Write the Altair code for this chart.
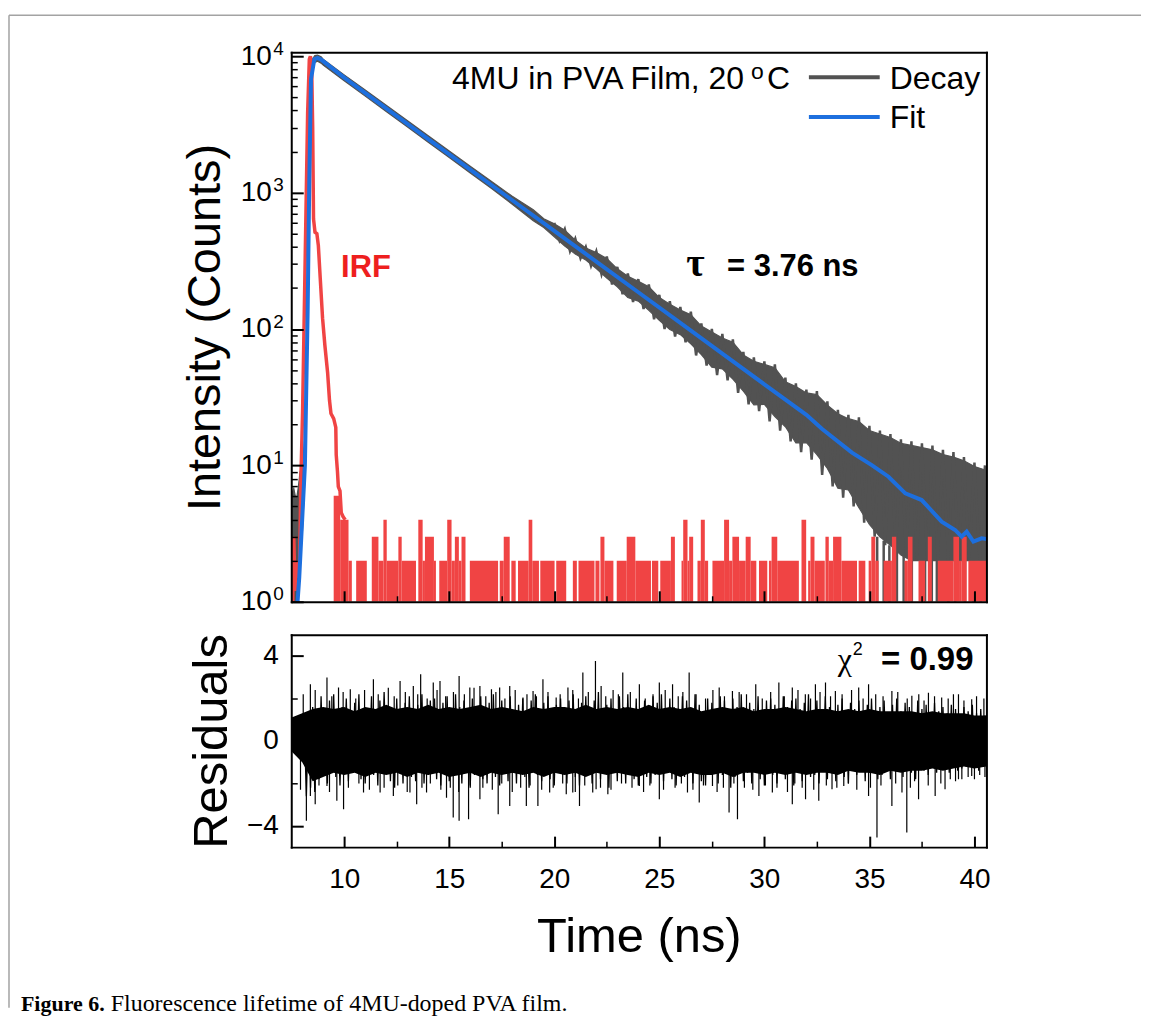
import altair as alt
import pandas as pd

SANS = "Liberation Sans"
SERIF = "Liberation Serif"
GRAY = "#525252"
BLUE = "#1d6fde"
RED = "#f04444"
RED_TXT = "#ee1f1f"

X_DOMAIN = [7.48, 40.57]
Y_DOMAIN = [1, 10700]
R_DOMAIN = [-5, 5]

# ---------------- Decay (gray) : time (ns), upper / lower envelope (counts)
decay_t = [7.48, 7.60, 7.72, 7.82, 7.90, 8.00, 8.13, 8.26, 8.34, 8.42,
           8.50, 8.60, 8.73, 8.90, 9.00, 10, 11, 12, 13, 14,
           15, 16, 17, 18, 19, 19.5, 20, 20.5, 21, 21.5,
           22, 22.5, 23, 23.5, 24, 24.5, 25, 25.5, 26, 26.5,
           27, 27.5, 28, 28.5, 29, 29.5, 30, 30.5, 31, 31.5,
           32, 32.5, 33, 33.5, 34, 34.5, 35, 35.5, 36, 36.5,
           37, 37.5, 38, 38.5, 39, 39.5, 40, 40.57]
decay_hi = [6.0, 6.8, 5.5, 7.0, 9.0, 10, 16, 190, 1600, 8000,
            9600, 10100, 10200, 9900, 9500, 7300, 5650, 4370, 3380, 2610,
            2020, 1560, 1210, 940, 750, 644, 590, 529, 448, 392,
            363, 329, 276, 244, 224, 204, 170, 152, 138, 127,
            105, 95, 86, 80, 64.5, 58, 55, 52, 41, 37.8,
            34, 33, 27.6, 23.9, 22, 21, 18, 17, 16, 14.5,
            14, 13.5, 13, 12, 11.5, 10.8, 9.8, 9.2]
decay_lo = [1.0, 1.0, 1.0, 1.3, 2.0, 3.0, 8, 100, 950, 5600,
            8200, 9000, 9200, 8900, 8600, 6600, 5100, 3940, 3040, 2340,
            1810, 1390, 1075, 822, 623, 554, 474, 405, 354, 320,
            277, 236, 204, 170, 160, 137, 116, 99, 91, 78,
            65, 52.5, 51, 43, 35, 27.8, 28, 22.8, 19.2, 14.6,
            14.7, 12, 9.5, 6.8, 6.6, 4.9, 3.7, 3.0, 2.6, 2.2,
            2.0, 2.0, 2.0, 2.0, 2.0, 2.0, 2.0, 2.0]
# noisy decay channels (spiky trace) in the later part
decay_zz_t = [20.00, 20.25, 20.50, 20.75, 21.00, 21.25, 21.50, 21.75, 22.00, 22.25,
              22.50, 22.75, 23.00, 23.25, 23.50, 23.75, 24.00, 24.25, 24.50, 24.75,
              25.00, 25.25, 25.50, 25.75, 26.00, 26.25, 26.50, 26.75, 27.00, 27.25,
              27.50, 27.75, 28.00, 28.25, 28.50, 28.75, 29.00, 29.25, 29.50, 29.75,
              30.00, 30.25, 30.50, 30.75, 31.00, 31.25, 31.50, 31.75, 32.00, 32.25,
              32.50, 32.75, 33.00, 33.25, 33.50, 33.75, 34.00, 34.25, 34.50, 34.75,
              35.00, 35.25, 35.50, 35.75, 36.00, 36.25, 36.50, 36.75, 37.00, 37.25,
              37.50, 37.75, 38.00, 38.25, 38.50, 38.75, 39.00, 39.25, 39.50, 39.75,
              40.00, 40.25, 40.50]
decay_zz_v = [600, 445, 540, 372, 460, 330, 400, 290, 372, 252,
              340, 212, 285, 180, 255, 158, 232, 140, 212, 118,
              178, 100, 160, 88, 145, 80, 134, 64, 110, 54,
              100, 46, 92, 42, 84, 34, 68, 28, 62, 25,
              58, 21, 55, 18, 44, 15, 40, 12.5, 36, 11,
              35, 8.5, 29.5, 7.0, 25.5, 5.8, 23.5, 5.0, 22.5, 3.8,
              19.5, 3.0, 18, 2.6, 17, 2.3, 15.5, 2.1, 15, 2.0,
              14.5, 2.0, 14, 2.0, 13, 2.0, 12.5, 2.0, 11.5, 2.0,
              10.5, 2.0, 10]
# gray decay channels dropping to the floor in the tail
decay_drop_t = [35.37, 35.68, 35.95, 36.31, 36.63, 37.02, 37.65, 37.97,
                38.21, 38.76, 39.08, 39.55, 39.95, 40.30]
decay_drop_v = [3.0, 2.8, 2.6, 2.4, 2.2, 2.1, 2.0, 2.0,
                2.0, 2.0, 2.0, 2.0, 2.0, 2.0]

# ---------------- Fit (blue)
fit_t = [7.78, 7.86, 8.13, 8.26, 8.34, 8.42, 8.58, 8.73, 8.90, 10,
         12, 14, 16, 18, 20, 22, 24, 26, 28, 30,
         32, 32.75, 34.17, 35.13, 35.91, 36.71, 37.49, 38.44, 39.08, 39.39,
         39.63, 39.95, 40.34, 40.57]
fit_v = [1.0, 1.5, 10, 133, 1260, 6800, 9500, 9700, 9450, 6960,
         4150, 2470, 1473, 879, 524, 312, 186, 111, 66, 39.3,
         23.5, 18.5, 12.4, 10.0, 8.26, 6.24, 5.57, 3.87, 3.36, 3.0,
         3.27, 2.76, 2.92, 2.89]

# ---------------- IRF (red) main pulse
irf_t = [7.49, 7.55, 7.60, 7.66, 7.72, 7.80, 7.88, 7.94, 8.02, 8.10,
         8.18, 8.26, 8.34, 8.39, 8.45, 8.50, 8.54, 8.61, 8.70, 8.77,
         8.86, 8.97, 9.08, 9.21, 9.30, 9.37, 9.50, 9.60, 9.62, 9.68,
         9.72, 9.80, 9.86, 9.95, 10.05]
irf_v = [2, 1, 3, 1.2, 2, 1.5, 2, 8, 25, 133,
         716, 3860, 9500, 10000, 8480, 3000, 641, 512, 500, 409,
         235, 120, 76, 48, 30, 24, 22, 19, 12, 9,
         7, 6.5, 4.5, 4.2, 4]

# ---------------- IRF background counts (blocks: start, end, counts)
irf_bg_start = [9.50, 9.81, 10.206, 10.570, 11.313, 11.630, 11.867, 12.025, 12.579, 12.737,
                13.528, 13.734, 13.844, 14.271, 14.525, 14.904, 15.110, 15.268, 15.458, 15.584,
                15.980, 17.404, 17.594, 17.957, 18.274, 18.780, 18.954, 19.334, 20.093, 20.884,
                21.153, 21.960, 22.197, 22.387, 22.973, 23.447, 23.858, 24.650, 25.045, 25.551,
                26.057, 26.137, 26.342, 26.421, 26.817, 26.975, 27.165, 27.529, 28.083, 28.320,
                28.478, 28.795, 29.111, 29.348, 29.744, 30.218, 30.345, 30.614, 31.768, 32.085,
                32.196, 32.385, 32.907, 33.066, 33.271, 33.667, 34.489, 34.964, 35.091, 35.280,
                35.676, 36.071, 36.673, 36.831, 37.337, 37.780, 38.255, 38.998, 39.267, 39.394,
                39.710]
irf_bg_end = [9.81, 10.206, 10.364, 11.076, 11.630, 11.867, 12.025, 12.579, 12.737, 13.417,
              13.734, 13.844, 14.271, 14.366, 14.904, 15.110, 15.268, 15.458, 15.584, 15.774,
              17.325, 17.594, 17.878, 18.163, 18.780, 18.954, 19.270, 20.014, 20.568, 21.074,
              21.913, 22.150, 22.387, 22.814, 23.447, 23.858, 24.602, 24.950, 25.551, 25.741,
              26.137, 26.342, 26.421, 26.611, 26.975, 27.165, 27.323, 28.083, 28.320, 28.478,
              28.795, 29.111, 29.348, 29.617, 30.139, 30.345, 30.614, 31.642, 31.990, 32.196,
              32.385, 32.876, 33.066, 33.271, 33.667, 34.410, 34.806, 35.091, 35.280, 35.439,
              36.071, 36.277, 36.831, 37.052, 37.653, 37.970, 38.998, 39.267, 39.394, 39.631,
              40.580]
irf_bg_val = [6, 4, 2, 2, 3, 2, 4, 2, 3, 2,
              4, 2, 3, 2, 2, 4, 2, 3, 2, 3,
              2, 2, 3, 2, 2, 4, 2, 2, 2, 2,
              2, 2, 3, 2, 2, 3, 2, 2, 2, 3,
              2, 4, 2, 3, 2, 4, 2, 2, 4, 2,
              3, 2, 3, 2, 2, 2, 3, 2, 4, 2,
              3, 2, 3, 2, 3, 2, 2, 2, 3, 2,
              2, 3, 2, 3, 2, 3, 2, 3, 2, 3,
              2]

# ---------------- Residuals: dense core envelope
res_t = [7.5, 8.0, 8.5, 9.0, 9.5, 10.0, 10.5, 11.0, 11.5, 12.0,
         12.5, 13.0, 13.5, 14.0, 14.5, 15.0, 15.5, 16.0, 16.5, 17.0,
         17.5, 18.0, 18.5, 19.0, 19.5, 20.0, 20.5, 21.0, 21.5, 22.0,
         22.5, 23.0, 23.5, 24.0, 24.5, 25.0, 25.5, 26.0, 26.5, 27.0,
         27.5, 28.0, 28.5, 29.0, 29.5, 30.0, 30.5, 31.0, 31.5, 32.0,
         32.5, 33.0, 33.5, 34.0, 34.5, 35.0, 35.5, 36.0, 36.5, 37.0,
         37.5, 38.0, 38.5, 39.0, 39.5, 40.0, 40.57]
res_hi = [1.1, 1.3, 1.5, 1.6, 1.5, 1.6, 1.4, 1.6, 1.5, 1.7,
          1.5, 1.6, 1.5, 1.7, 1.5, 1.6, 1.5, 1.6, 1.7, 1.5,
          1.6, 1.5, 1.4, 1.6, 1.5, 1.6, 1.6, 1.5, 1.7, 1.5,
          1.6, 1.5, 1.6, 1.5, 1.7, 1.5, 1.6, 1.5, 1.6, 1.4,
          1.5, 1.6, 1.5, 1.6, 1.4, 1.5, 1.5, 1.6, 1.5, 1.4,
          1.5, 1.5, 1.4, 1.5, 1.4, 1.5, 1.4, 1.4, 1.4, 1.4,
          1.3, 1.4, 1.3, 1.3, 1.3, 1.2, 1.2]
res_lo = [-0.5, -1.0, -1.9, -1.7, -1.5, -1.6, -1.5, -1.7, -1.5, -1.6,
          -1.5, -1.7, -1.5, -1.6, -1.5, -1.7, -1.6, -1.5, -1.7, -1.5,
          -1.6, -1.5, -1.6, -1.5, -1.7, -1.5, -1.6, -1.5, -1.7, -1.5,
          -1.6, -1.5, -1.6, -1.7, -1.5, -1.6, -1.5, -1.7, -1.5, -1.6,
          -1.6, -1.5, -1.7, -1.5, -1.5, -1.6, -1.5, -1.6, -1.5, -1.6,
          -1.5, -1.5, -1.6, -1.4, -1.5, -1.5, -1.6, -1.4, -1.5, -1.4,
          -1.4, -1.3, -1.4, -1.3, -1.2, -1.3, -1.2]

# residual trace (every 0.1 ns)
zz_t = [7.5, 7.6, 7.7, 7.8, 7.9, 8.0, 8.1, 8.2, 8.3, 8.4,
        8.5, 8.6, 8.7, 8.8, 8.9, 9.0, 9.1, 9.2, 9.3, 9.4,
        9.5, 9.6, 9.7, 9.8, 9.9, 10.0, 10.1, 10.2, 10.3, 10.4,
        10.5, 10.6, 10.7, 10.8, 10.9, 11.0, 11.1, 11.2, 11.3, 11.4,
        11.5, 11.6, 11.7, 11.8, 11.9, 12.0, 12.1, 12.2, 12.3, 12.4,
        12.5, 12.6, 12.7, 12.8, 12.9, 13.0, 13.1, 13.2, 13.3, 13.4,
        13.5, 13.6, 13.7, 13.8, 13.9, 14.0, 14.1, 14.2, 14.3, 14.4,
        14.5, 14.6, 14.7, 14.8, 14.9, 15.0, 15.1, 15.2, 15.3, 15.4,
        15.5, 15.6, 15.7, 15.8, 15.9, 16.0, 16.1, 16.2, 16.3, 16.4,
        16.5, 16.6, 16.7, 16.8, 16.9, 17.0, 17.1, 17.2, 17.3, 17.4,
        17.5, 17.6, 17.7, 17.8, 17.9, 18.0, 18.1, 18.2, 18.3, 18.4,
        18.5, 18.6, 18.7, 18.8, 18.9, 19.0, 19.1, 19.2, 19.3, 19.4,
        19.5, 19.6, 19.7, 19.8, 19.9, 20.0, 20.1, 20.2, 20.3, 20.4,
        20.5, 20.6, 20.7, 20.8, 20.9, 21.0, 21.1, 21.2, 21.3, 21.4,
        21.5, 21.6, 21.7, 21.8, 21.9, 22.0, 22.1, 22.2, 22.3, 22.4,
        22.5, 22.6, 22.7, 22.8, 22.9, 23.0, 23.1, 23.2, 23.3, 23.4,
        23.5, 23.6, 23.7, 23.8, 23.9, 24.0, 24.1, 24.2, 24.3, 24.4,
        24.5, 24.6, 24.7, 24.8, 24.9, 25.0, 25.1, 25.2, 25.3, 25.4,
        25.5, 25.6, 25.7, 25.8, 25.9, 26.0, 26.1, 26.2, 26.3, 26.4,
        26.5, 26.6, 26.7, 26.8, 26.9, 27.0, 27.1, 27.2, 27.3, 27.4,
        27.5, 27.6, 27.7, 27.8, 27.9, 28.0, 28.1, 28.2, 28.3, 28.4,
        28.5, 28.6, 28.7, 28.8, 28.9, 29.0, 29.1, 29.2, 29.3, 29.4,
        29.5, 29.6, 29.7, 29.8, 29.9, 30.0, 30.1, 30.2, 30.3, 30.4,
        30.5, 30.6, 30.7, 30.8, 30.9, 31.0, 31.1, 31.2, 31.3, 31.4,
        31.5, 31.6, 31.7, 31.8, 31.9, 32.0, 32.1, 32.2, 32.3, 32.4,
        32.5, 32.6, 32.7, 32.8, 32.9, 33.0, 33.1, 33.2, 33.3, 33.4,
        33.5, 33.6, 33.7, 33.8, 33.9, 34.0, 34.1, 34.2, 34.3, 34.4,
        34.5, 34.6, 34.7, 34.8, 34.9, 35.0, 35.1, 35.2, 35.3, 35.4,
        35.5, 35.6, 35.7, 35.8, 35.9, 36.0, 36.1, 36.2, 36.3, 36.4,
        36.5, 36.6, 36.7, 36.8, 36.9, 37.0, 37.1, 37.2, 37.3, 37.4,
        37.5, 37.6, 37.7, 37.8, 37.9, 38.0, 38.1, 38.2, 38.3, 38.4,
        38.5, 38.6, 38.7, 38.8, 38.9, 39.0, 39.1, 39.2, 39.3, 39.4,
        39.5, 39.6, 39.7, 39.8, 39.9, 40.0, 40.1, 40.2, 40.3, 40.4,
        40.5]
zz_v = [0.6, -0.3, 0.9, -0.5, 1.1, -0.9, 0.8, -2.6, 1.2, -2.2,
        1.6, -2.4, 0.9, -1.8, 2.1, -1.5, 1.3, -2.0, 1.9, -1.2,
        2.2, -1.7, 1.0, -2.1, 1.6, -0.9, 2.0, -1.9, 1.2, -1.4,
        1.8, -1.3, 2.2, -1.8, 0.9, -2.0, 1.5, -1.1, 2.1, -1.6,
        1.3, -2.1, 1.9, -1.4, 2.3, -1.0, 1.6, -1.9, 1.1, -2.2,
        2.0, -1.5, 1.4, -2.0, 1.8, -1.2, 2.1, -1.7, 1.0, -1.9,
        1.7, -1.3, 2.2, -2.0, 1.2, -1.6, 1.9, -1.1, 2.0, -1.8,
        1.4, -2.1, 1.8, -1.4, 2.1, -1.9, 1.1, -1.5, 2.2, -1.2,
        1.6, -2.0, 1.9, -1.3, 1.3, -2.2, 2.0, -1.6, 1.5, -1.1,
        2.1, -1.8, 1.2, -2.0, 1.8, -1.4, 2.2, -1.7, 1.4, -2.1,
        1.9, -1.2, 1.5, -1.9, 2.1, -1.5, 1.0, -2.0, 1.7, -1.3,
        2.0, -1.7, 1.4, -2.2, 1.9, -1.0, 2.2, -1.6, 1.2, -1.9,
        1.8, -1.4, 2.1, -1.8, 1.3, -2.1, 1.7, -1.2, 2.0, -1.6,
        1.5, -2.0, 1.9, -1.3, 2.2, -1.7, 1.1, -2.1, 1.8, -1.4,
        2.1, -1.6, 1.4, -2.0, 1.9, -1.2, 2.3, -1.8, 1.2, -1.5,
        1.7, -2.2, 2.0, -1.4, 1.3, -1.9, 2.1, -1.1, 1.6, -2.0,
        2.2, -1.5, 1.2, -1.8, 2.0, -2.1, 1.5, -1.3, 1.9, -1.7,
        1.4, -2.0, 2.1, -1.6, 1.8, -1.2, 2.2, -1.9, 1.1, -1.5,
        2.0, -1.8, 1.6, -2.1, 1.3, -1.4, 2.1, -1.7, 1.9, -1.1,
        1.5, -2.0, 2.2, -1.3, 1.7, -1.9, 1.2, -2.1, 2.0, -1.5,
        1.8, -1.2, 1.4, -2.0, 2.1, -1.6, 1.9, -1.4, 1.3, -2.2,
        2.0, -1.7, 1.6, -1.3, 2.2, -1.9, 1.1, -1.5, 1.8, -2.0,
        1.5, -1.4, 2.1, -1.8, 1.3, -2.1, 1.9, -1.2, 2.0, -1.6,
        1.7, -2.0, 1.2, -1.5, 2.1, -1.8, 1.6, -1.1, 1.9, -2.1,
        2.0, -1.4, 1.5, -1.9, 1.8, -1.3, 2.2, -1.7, 1.2, -1.6,
        1.9, -2.0, 1.4, -1.2, 2.1, -1.8, 1.6, -1.5, 1.3, -1.9,
        1.7, -1.3, 2.0, -1.7, 1.2, -2.0, 1.8, -1.4, 1.5, -1.6,
        1.9, -1.2, 1.4, -1.9, 1.7, -1.5, 2.0, -1.3, 1.2, -1.8,
        1.6, -1.6, 1.9, -1.2, 1.3, -1.8, 1.7, -1.4, 2.0, -1.1,
        1.4, -1.7, 1.8, -1.3, 1.6, -1.5, 1.2, -1.8, 1.9, -1.2,
        1.5, -1.4, 1.7, -1.6, 1.3, -1.2, 1.8, -1.5, 1.4, -1.3,
        1.6, -1.1, 1.3, -1.5, 1.7, -1.2, 1.5, -1.4, 1.2, -1.3,
        1.6, -1.2, 1.4, -1.1, 1.7, -1.3, 1.3, -1.4, 1.5, -1.0,
        1.2]

# large residual spikes
spk_up_t = [8.39, 9.18, 9.73, 10.29, 11.39, 12.66, 13.29, 13.64, 14.24, 14.56,
            15.47, 15.98, 16.46, 17.01, 17.40, 17.88, 18.51, 18.99, 19.46, 20.09,
            20.65, 21.36, 21.96, 22.23, 23.26, 24.05, 25.00, 25.63, 26.42, 27.85,
            28.48, 29.59, 30.69, 31.33, 32.43, 32.91, 33.38, 34.49, 34.96, 36.07,
            37.02, 37.81, 38.44, 39.24, 39.87]
spk_up_v = [2.67, 2.98, 2.51, 2.43, 2.90, 2.82, 2.59, 3.14, 2.75, 2.82,
            3.06, 2.51, 2.59, 2.43, 2.51, 2.59, 2.04, 2.35, 2.90, 2.04,
            2.51, 3.22, 3.76, 2.59, 3.22, 2.67, 2.75, 2.67, 3.22, 2.51,
            2.35, 2.67, 2.75, 2.51, 2.67, 2.75, 2.35, 2.51, 2.67, 2.35,
            2.12, 2.27, 2.04, 2.20, 1.96]
spk_dn_t = [8.20, 8.39, 8.62, 9.18, 9.65, 9.97, 10.92, 11.71, 12.34, 13.13,
            13.45, 13.92, 14.87, 15.19, 15.47, 15.92, 16.46, 17.33, 17.88, 18.67,
            19.22, 19.78, 20.57, 20.88, 21.20, 21.83, 21.99, 22.55, 24.05, 25.00,
            26.34, 26.90, 27.53, 28.32, 28.72, 29.74, 30.38, 31.33, 31.96, 32.59,
            33.22, 33.78, 34.96, 35.36, 36.07, 36.55, 36.78, 37.34, 38.13, 38.60,
            39.24, 39.87]
spk_dn_v = [-3.76, -2.59, -2.98, -2.12, -2.82, -3.22, -2.43, -2.43, -2.59, -2.43,
            -2.98, -2.43, -2.67, -3.61, -3.76, -3.69, -2.75, -3.45, -3.06, -3.06,
            -3.06, -2.43, -2.51, -2.43, -3.06, -2.43, -2.27, -2.51, -2.12, -2.75,
            -2.43, -2.90, -2.12, -3.37, -3.69, -2.59, -2.43, -2.98, -2.75, -2.82,
            -2.27, -2.12, -2.59, -4.55, -3.06, -2.43, -4.31, -2.75, -2.59, -2.27,
            -1.80, -1.65]
# medium residual spikes
med_up_t = [8.05, 8.62, 9.41, 9.95, 10.55, 10.97, 11.62, 12.10, 12.38, 12.91,
            13.50, 13.95, 14.42, 14.83, 15.20, 15.72, 16.18, 16.74, 17.22, 17.65,
            18.14, 18.70, 19.15, 19.70, 20.28, 20.88, 21.15, 21.62, 22.45, 22.80,
            23.05, 23.62, 24.33, 24.70, 25.28, 25.90, 26.12, 26.75, 27.20, 27.55,
            28.10, 28.80, 29.15, 29.90, 30.30, 30.95, 31.60, 31.95, 32.20, 32.65,
            33.15, 33.70, 34.15, 34.70, 35.30, 35.65, 36.35, 36.80, 37.35, 37.60,
            38.10, 38.75, 39.00, 39.50, 40.10, 40.45]
med_up_v = [2.2, 2.4, 2.1, 2.3, 2.0, 2.4, 2.2, 2.5, 2.1, 2.3,
            2.2, 2.0, 2.4, 2.1, 2.3, 2.2, 2.5, 2.1, 2.3, 2.0,
            2.4, 2.2, 2.1, 2.3, 2.2, 2.4, 2.0, 2.3, 2.1, 2.4,
            2.2, 2.3, 2.0, 2.2, 2.4, 2.1, 2.3, 2.2, 2.0, 2.4,
            2.1, 2.3, 2.2, 2.0, 2.3, 2.1, 2.4, 2.2, 2.0, 2.3,
            2.1, 2.2, 2.4, 2.0, 2.2, 2.1, 2.3, 2.0, 2.2, 1.9,
            2.1, 2.0, 2.2, 1.9, 2.1, 2.0]
med_dn_t = [7.92, 8.80, 9.30, 10.20, 10.70, 11.20, 11.90, 12.55, 13.00, 13.70,
            14.10, 14.60, 15.05, 15.45, 16.00, 16.60, 17.05, 17.50, 18.00, 18.40,
            18.85, 19.40, 19.95, 20.40, 21.00, 21.45, 22.20, 22.70, 23.20, 23.70,
            24.25, 24.55, 25.20, 25.75, 26.05, 26.60, 27.10, 27.75, 28.05, 28.55,
            29.05, 29.45, 30.05, 30.60, 31.10, 31.45, 31.80, 32.35, 32.95, 33.45,
            34.00, 34.40, 35.05, 35.55, 36.25, 36.95, 37.15, 37.80, 38.40, 38.85,
            39.40, 39.70, 40.00, 40.25, 40.50, 39.10]
med_dn_v = [-2.3, -2.1, -2.4, -2.2, -2.0, -2.3, -2.2, -2.1, -2.4, -2.2,
            -2.0, -2.3, -2.2, -2.4, -2.1, -2.2, -2.3, -2.0, -2.4, -2.2,
            -2.1, -2.3, -2.2, -2.0, -2.4, -2.1, -2.2, -2.3, -2.0, -2.2,
            -2.4, -2.1, -2.3, -2.2, -2.0, -2.3, -2.1, -2.4, -2.2, -2.0,
            -2.2, -2.3, -2.1, -2.2, -2.4, -2.0, -2.2, -2.3, -2.1, -2.2,
            -2.0, -2.3, -2.2, -2.1, -2.0, -2.2, -1.9, -2.1, -2.0, -1.8,
            -1.8, -1.7, -1.8, -1.6, -1.7, -1.9]

# axis tick values
x_major = [10, 15, 20, 25, 30, 35, 40]
x_minor = [12.5, 17.5, 22.5, 27.5, 32.5, 37.5]
y_major = [1, 10, 100, 1000, 10000]
y_minor = [2, 3, 4, 5, 6, 7, 8, 9, 20, 30, 40, 50, 60, 70, 80, 90,
           200, 300, 400, 500, 600, 700, 800, 900,
           2000, 3000, 4000, 5000, 6000, 7000, 8000, 9000]
r_major = [-4, 0, 4]
r_minor = [-2, 2]

W = 697
H_TOP = 551
H_BOT = 213

xs = alt.Scale(domain=X_DOMAIN, nice=False, zero=False)
ys = alt.Scale(type="log", domain=Y_DOMAIN, nice=False)
rs = alt.Scale(domain=R_DOMAIN, nice=False, zero=False)

EXP = ("datum.value < 5 ? '0' : datum.value < 50 ? '1' : datum.value < 500 ? '2' "
       ": datum.value < 5000 ? '3' : '4'")


def tick_axis(orient, values, size, width=2, **kw):
    return alt.Axis(orient=orient, values=values, tickSize=size, offset=-size,
                    tickWidth=width, tickColor="black", domain=False, grid=False,
                    zindex=1, **kw)


def frame_axis(orient, **kw):
    base = dict(orient=orient, domain=True, domainWidth=2, domainColor="black",
                domainCap="square", ticks=False, grid=False, zindex=2)
    if "labels" not in kw:
        base["labels"] = False
    base.update(kw)
    return alt.Axis(**base)


one = pd.DataFrame({"k": [0]})


def txt(s, x, y, size, align="left", weight="normal", color="black", font=SANS):
    return alt.Chart(one).mark_text(
        text=s, align=align, baseline="alphabetic", fontSize=size,
        fontWeight=weight, color=color, font=font
    ).encode(x=alt.value(x), y=alt.value(y))


# ---------------- top panel
decay_df = pd.DataFrame({"t": decay_t, "hi": decay_hi, "lo": decay_lo})
zzd_df = pd.DataFrame({"t": decay_zz_t, "v": decay_zz_v})
drop_df = pd.DataFrame({"t": decay_drop_t, "v": decay_drop_v})
fit_df = pd.DataFrame({"t": fit_t, "v": fit_v})
irf_df = pd.DataFrame({"t": irf_t, "v": irf_v})
bg_df = pd.DataFrame({"s": irf_bg_start, "e": irf_bg_end, "v": irf_bg_val})

decay = alt.Chart(decay_df).mark_area(color=GRAY, stroke=GRAY, strokeWidth=1.2, clip=True).encode(
    x=alt.X("t:Q", scale=xs, axis=tick_axis("bottom", x_major, 11, labels=False), title=None),
    y=alt.Y("hi:Q", scale=ys, title="Intensity (Counts)",
            axis=tick_axis("left", y_major, 12, labelExpr="'10'", labelFontSize=28,
                           labelPadding=20, labelFlush=False, labelOverlap=False,
                           titleFontSize=47, titlePadding=11)),
    y2="lo:Q",
)
decay_zz = alt.Chart(zzd_df).mark_line(color=GRAY, strokeWidth=2.5, clip=True).encode(
    x=alt.X("t:Q", scale=xs, axis=None),
    y=alt.Y("v:Q", scale=ys, axis=None),
)
drops = alt.Chart(drop_df).mark_rule(color=GRAY, strokeWidth=2.5, clip=True).encode(
    x=alt.X("t:Q", scale=xs, axis=None),
    y=alt.Y("v:Q", scale=ys, axis=None),
    y2=alt.datum(1),
)
irf_bg = alt.Chart(bg_df).mark_rect(color=RED, clip=True).encode(
    x=alt.X("s:Q", scale=xs, axis=tick_axis("bottom", x_minor, 6, width=1.5, labels=False), title=None),
    x2="e:Q",
    y=alt.Y("v:Q", scale=ys, axis=tick_axis("left", y_minor, 6, width=1.5, labels=False), title=None),
    y2=alt.datum(1),
)
irf = alt.Chart(irf_df).mark_line(color=RED, strokeWidth=3.5, clip=True).encode(
    x=alt.X("t:Q", scale=xs, axis=frame_axis("bottom"), title=None),
    y=alt.Y("v:Q", scale=ys, title=None,
            axis=frame_axis("left", values=y_major, labels=True, labelExpr=EXP,
                            labelFontSize=19, labelPadding=8, labelOffset=-8,
                            labelFlush=False, labelOverlap=False, tickSize=0)),
)
fit = alt.Chart(fit_df).mark_line(color=BLUE, strokeWidth=4, clip=True).encode(
    x=alt.X("t:Q", scale=xs, axis=frame_axis("top"), title=None),
    y=alt.Y("v:Q", scale=ys, axis=frame_axis("right"), title=None),
)

legend_decay = alt.Chart(one).mark_rule(color=GRAY, strokeWidth=4).encode(
    x=alt.value(519), x2=alt.value(590), y=alt.value(25))
legend_fit = alt.Chart(one).mark_rule(color=BLUE, strokeWidth=4).encode(
    x=alt.value(519), x2=alt.value(590), y=alt.value(65))

border_v = alt.Chart(one).mark_rule(color="#a3a3a3", strokeWidth=1.5).encode(
    x=alt.value(-283), y=alt.value(-37), y2=alt.value(958))
border_h = alt.Chart(one).mark_rule(color="#a3a3a3", strokeWidth=1.5).encode(
    x=alt.value(-283), x2=alt.value(852), y=alt.value(-37))

top = alt.layer(
    decay, decay_zz, drops, irf_bg, irf, fit,
    legend_decay, legend_fit,
    txt("4MU in PVA Film, 20", 454, 37.3, 32, align="right"),
    txt("o", 461, 26.5, 23),
    txt("C", 477, 37.3, 32),
    txt("Decay", 600, 37.3, 32),
    txt("Fit", 600, 75.7, 32),
    txt("τ", 396, 224, 40, weight="bold", font=SERIF),
    txt("= 3.76 ns", 437, 224, 31, weight="bold"),
    txt("IRF", 50, 225.7, 31, weight="bold", color=RED_TXT),
    border_v, border_h,
).resolve_axis(x="independent", y="independent").properties(width=W, height=H_TOP)

# ---------------- bottom panel
res_df = pd.DataFrame({"t": res_t, "hi": res_hi, "lo": res_lo})
zz_df = pd.DataFrame({"t": zz_t, "v": zz_v})
up_df = pd.DataFrame({"t": spk_up_t + med_up_t, "v": spk_up_v + med_up_v})
dn_df = pd.DataFrame({"t": spk_dn_t + med_dn_t, "v": spk_dn_v + med_dn_v})

core = alt.Chart(res_df).mark_area(color="black", clip=True).encode(
    x=alt.X("t:Q", scale=xs, title="Time (ns)",
            axis=tick_axis("bottom", x_major, 11, labelFontSize=28, labelPadding=18,
                           labelFlush=False, titleFontSize=49, titlePadding=20)),
    y=alt.Y("hi:Q", scale=rs, title="Residuals",
            axis=tick_axis("left", r_major, 12, labelFontSize=28, labelPadding=13,
                           labelFlush=False, titleFontSize=49, titlePadding=10)),
    y2="lo:Q",
)
trace = alt.Chart(zz_df).mark_line(color="black", strokeWidth=1.3, clip=True).encode(
    x=alt.X("t:Q", scale=xs, axis=frame_axis("top"), title=None),
    y=alt.Y("v:Q", scale=rs, axis=frame_axis("right"), title=None),
)
ups = alt.Chart(up_df).mark_rule(color="black", strokeWidth=1.2, clip=True).encode(
    x=alt.X("t:Q", scale=xs, axis=tick_axis("bottom", x_minor, 6, width=1.5, labels=False), title=None),
    y=alt.Y("v:Q", scale=rs, axis=tick_axis("left", r_minor, 6, width=1.5, labels=False), title=None),
    y2=alt.datum(0),
)
dns = alt.Chart(dn_df).mark_rule(color="black", strokeWidth=1.2, clip=True).encode(
    x=alt.X("t:Q", scale=xs, axis=frame_axis("bottom"), title=None),
    y=alt.Y("v:Q", scale=rs, axis=frame_axis("left"), title=None),
    y2=alt.datum(0),
)

bottom = alt.layer(
    core, trace, ups, dns,
    txt("χ", 548, 35, 32, font=SERIF),
    txt("2", 563, 20, 18),
    txt("= 0.99", 684, 35, 33, align="right", weight="bold"),
    txt("Figure 6.", -271, 377, 22, weight="bold", font=SERIF),
    txt("Fluorescence lifetime of 4MU-doped PVA film.", -181, 377, 24, font=SERIF),
).resolve_axis(x="independent", y="independent").properties(width=W, height=H_BOT)

chart = alt.vconcat(top, bottom, spacing=33, bounds="flush").properties(
    padding={"left": 0, "top": 5, "right": 5, "bottom": 5}
).configure_view(strokeWidth=0).configure_axis(
    labelFont=SANS, titleFont=SANS, labelColor="black", titleColor="black",
    titleFontWeight="normal", grid=False
)

chart.save("out.html", embed_options={"renderer": "svg", "actions": False})
